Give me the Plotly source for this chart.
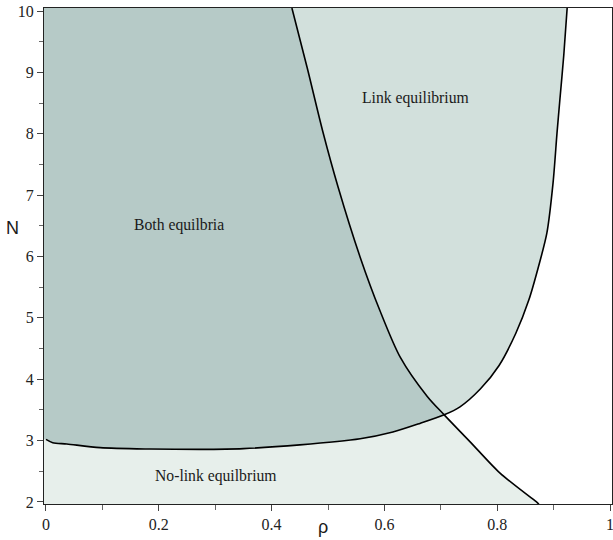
import plotly.graph_objects as go

# Curve A: boundary of the link-equilibrium region (N vs rho)
rho_a = [0.0, 0.012, 0.037, 0.096, 0.184, 0.273, 0.35, 0.45, 0.557, 0.615, 0.663, 0.706,
         0.734, 0.770, 0.803, 0.833, 0.856, 0.873, 0.888, 0.899, 0.906, 0.911, 0.918, 0.924]
N_a = [3.02, 2.966, 2.945, 2.885, 2.863, 2.858, 2.87, 2.93, 3.03, 3.14, 3.28, 3.42,
       3.55, 3.84, 4.22, 4.75, 5.29, 5.83, 6.38, 7.20, 8.01, 8.547, 9.28, 10.05]

# Curve B: boundary of the no-link-equilibrium region
rho_b = [0.436, 0.463, 0.491, 0.518, 0.557, 0.592, 0.628, 0.676, 0.706, 0.752, 0.805, 0.871, 0.874]
N_b = [10.05, 9.08, 8.03, 7.13, 5.99, 5.12, 4.36, 3.72, 3.42, 2.98, 2.47, 1.99, 1.967]

region_labels = ["Both equilbria", "Link equilibrium", "No-link equilbrium"]
label_rho = [0.236, 0.656, 0.301]
label_N = [6.51, 8.58, 2.42]

x_ticks = [0, 0.2, 0.4, 0.6, 0.8, 1]
x_ticktext = ["0", "0.2", "0.4", "0.6", "0.8", "1"]
y_ticks = [2, 3, 4, 5, 6, 7, 8, 9, 10]

X_MIN, X_MAX = -0.0035, 1.0035
Y_MIN, Y_MAX = 1.967, 10.05

ia = rho_a.index(0.706)
ib = rho_b.index(0.706)

c_both = "#b6cac7"
c_link = "#d2e0dc"
c_nolink = "#e7efeb"
SERIF = "Liberation Serif, Times New Roman, serif"

fig = go.Figure()

# Both equilibria region
fig.add_trace(go.Scatter(
    x=[X_MIN] + rho_a[:ia + 1] + rho_b[:ib + 1][::-1] + [X_MIN],
    y=[N_a[0]] + N_a[:ia + 1] + N_b[:ib + 1][::-1] + [Y_MAX],
    fill="toself", fillcolor=c_both, line=dict(width=0), mode="lines",
    hoverinfo="skip", showlegend=False))

# Link equilibrium region
fig.add_trace(go.Scatter(
    x=rho_a[ia:] + rho_b[:ib + 1],
    y=N_a[ia:] + N_b[:ib + 1],
    fill="toself", fillcolor=c_link, line=dict(width=0), mode="lines",
    hoverinfo="skip", showlegend=False))

# No-link equilibrium region
fig.add_trace(go.Scatter(
    x=[X_MIN] + rho_a[:ia + 1] + rho_b[ib:] + [X_MIN],
    y=[N_a[0]] + N_a[:ia + 1] + N_b[ib:] + [Y_MIN],
    fill="toself", fillcolor=c_nolink, line=dict(width=0), mode="lines",
    hoverinfo="skip", showlegend=False))

# Boundary curves
fig.add_trace(go.Scatter(x=rho_a, y=N_a, mode="lines",
                         line=dict(color="black", width=1.6, shape="spline", smoothing=0.8),
                         hoverinfo="skip", showlegend=False))
fig.add_trace(go.Scatter(x=rho_b, y=N_b, mode="lines",
                         line=dict(color="black", width=1.6, shape="spline", smoothing=0.8),
                         hoverinfo="skip", showlegend=False))

for txt, rx, ny in zip(region_labels, label_rho, label_N):
    fig.add_annotation(x=rx, y=ny, text=txt, showarrow=False,
                       xanchor="center", yanchor="middle",
                       font=dict(family=SERIF, size=15.7, color="#1a1a1a"))

fig.add_annotation(xref="paper", yref="paper", x=-0.0555, y=0.556, text="N", showarrow=False,
                   xanchor="center", yanchor="middle",
                   font=dict(family="Liberation Sans", size=18, color="#1a1a1a"))
fig.add_annotation(xref="paper", yref="paper", x=0.491, y=-0.047, text="ρ", showarrow=False,
                   xanchor="center", yanchor="middle",
                   font=dict(family="Liberation Sans", size=18, color="#1a1a1a"))

fig.update_xaxes(range=[X_MIN, X_MAX], tickvals=x_ticks, ticktext=x_ticktext, automargin=False,
                 ticklabeloverflow="allow",
                 ticks="outside", ticklen=6, tickwidth=1, tickcolor="#444",
                 minor=dict(dtick=0.1, tick0=0, ticks="outside", ticklen=5, tickcolor="#666", tickwidth=1),
                 showline=True, linecolor="#222", linewidth=1, mirror=True,
                 showgrid=False, zeroline=False,
                 tickfont=dict(family=SERIF, size=16, color="#222"))
fig.update_yaxes(range=[Y_MIN, Y_MAX], tickvals=y_ticks, automargin=False,
                 ticklabeloverflow="allow",
                 ticks="outside", ticklen=6, tickwidth=1, tickcolor="#444",
                 minor=dict(dtick=0.5, tick0=2, ticks="outside", ticklen=4, tickcolor="#666", tickwidth=1),
                 showline=True, linecolor="#222", linewidth=1, mirror=True,
                 showgrid=False, zeroline=False,
                 tickfont=dict(family=SERIF, size=16, color="#222"))

fig.update_layout(width=613, height=540, margin=dict(l=44, r=1, t=8, b=36),
                  plot_bgcolor="white", paper_bgcolor="white")

fig.write_html("out.html", config={"displayModeBar": False},
               post_script="document.body.style.margin='0';")
